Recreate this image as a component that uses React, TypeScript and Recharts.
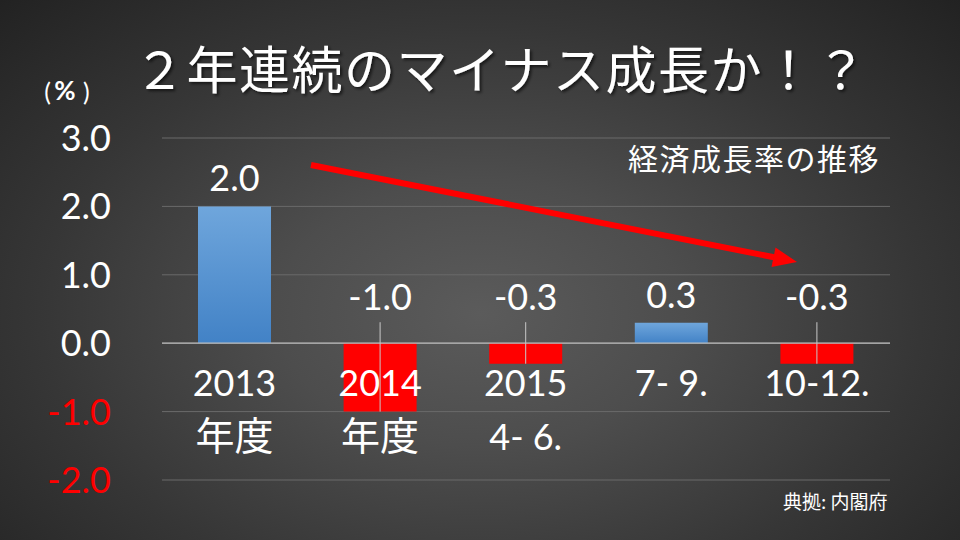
import React from 'react';
import { BarChart, Bar, XAxis, YAxis, CartesianGrid, Cell, LabelList, ReferenceLine } from 'recharts';

const categories = ['2013', '2014', '2015', '7- 9.', '10-12.'];
const subLabels = ['年度', '年度', '4- 6.', '', ''];
const growth = [2.0, -1.0, -0.3, 0.3, -0.3];
const yTicks = [-2, -1, 0, 1, 2, 3];

const data = categories.map((c, i) => ({ name: c, sub: subLabels[i], value: growth[i] }));

const NUM_FONT = "Lato, 'Noto Sans CJK JP', sans-serif";
const CJK_FONT = "'Noto Sans CJK JP', sans-serif";

const getBox = (props: any) => {
  const vb = props.viewBox || {};
  const x = Number(props.x ?? vb.x);
  const y = Number(props.y ?? vb.y);
  const w = Number(props.width ?? vb.width);
  const h = Number(props.height ?? vb.height);
  return { x, y, w, h };
};

const ValueLabel = (props: any) => {
  const { x, y, w, h } = getBox(props);
  const v = Number(props.value);
  const top = Math.min(y, y + h);
  const bottom = Math.max(y, y + h);
  const cx = x + w / 2;
  if (v >= 0) {
    return (
      <text x={cx} y={top - 15} textAnchor="middle" fill="#ffffff" fontSize={36} fontFamily={NUM_FONT}>
        {v.toFixed(1)}
      </text>
    );
  }
  const zero = top;
  return (
    <g>
      <line x1={cx} x2={cx} y1={zero - 21} y2={bottom} stroke="#c8c8c8" strokeWidth={1} />
      <text x={cx} y={zero - 33} textAnchor="middle" fill="#ffffff" fontSize={36} fontFamily={NUM_FONT}>
        {v.toFixed(1)}
      </text>
    </g>
  );
};

const CategoryLabel = (props: any) => {
  const { x, y, w, h } = getBox(props);
  const idx = Number(props.index);
  const v = growth[idx];
  const zero = v >= 0 ? Math.max(y, y + h) : Math.min(y, y + h);
  const cx = x + w / 2;
  const sub = subLabels[idx];
  const isCjk = /[\u3000-\u9fff]/.test(sub);
  return (
    <g>
      <text x={cx} y={zero + 53} textAnchor="middle" fill="#ffffff" fontSize={36} fontFamily={NUM_FONT}>
        {categories[idx]}
      </text>
      {sub ? (
        <text x={cx} y={zero + 107} textAnchor="middle" fill="#ffffff" fontSize={isCjk ? 39 : 36} fontFamily={isCjk ? CJK_FONT : NUM_FONT}>
          {sub}
        </text>
      ) : null}
    </g>
  );
};

const YTick = (props: any) => {
  const { x, y, payload } = props;
  const v = Number(payload.value);
  return (
    <text x={x} y={y} dy={13} textAnchor="end" fill={v < 0 ? '#ff0000' : '#ffffff'} fontSize={36} fontFamily={NUM_FONT}>
      {v.toFixed(1)}
    </text>
  );
};

export default function App() {
  return (
    <div
      style={{
        position: 'absolute',
        left: 0,
        top: 0,
        width: 960,
        height: 540,
        overflow: 'hidden',
        background: 'radial-gradient(ellipse farthest-corner at 50% 58%, #5b5b5b 0%, #4d4d4d 30%, #363636 65%, #222222 100%)',
      }}
    >
      <div style={{ position: 'absolute', left: 0, top: 0 }}>
        <BarChart width={960} height={540} data={data} margin={{ top: 138, right: 70, bottom: 60, left: 0 }}>
          <defs>
            <linearGradient id="blueGrad" x1="0" y1="0" x2="0" y2="1">
              <stop offset="0%" stopColor="#6fa6dc" />
              <stop offset="100%" stopColor="#4282c6" />
            </linearGradient>
          </defs>
          <CartesianGrid vertical={false} stroke="#6a6a6a" strokeWidth={1} />
          <XAxis dataKey="name" hide />
          <YAxis
            domain={[-2, 3]}
            ticks={yTicks}
            width={162}
            axisLine={false}
            tickLine={false}
            tickSize={0}
            tickMargin={51}
            tick={YTick}
          />
          <ReferenceLine y={0} stroke="#bdbdbd" strokeWidth={1.2} />
          <Bar dataKey="value" barSize={73} isAnimationActive={false}>
            {data.map((d, i) => (
              <Cell key={i} fill={d.value >= 0 ? 'url(#blueGrad)' : '#ff0000'} />
            ))}
            <LabelList dataKey="value" content={ValueLabel} />
            <LabelList dataKey="name" content={CategoryLabel} />
          </Bar>
        </BarChart>
      </div>
      <svg width={960} height={540} style={{ position: 'absolute', left: 0, top: 0, pointerEvents: 'none' }}>
        <defs>
          <filter id="titleShadow" x="-5%" y="-20%" width="110%" height="150%">
            <feDropShadow dx="2" dy="2" stdDeviation="1.5" floodColor="#000" floodOpacity="0.6" />
          </filter>
        </defs>
        <text x={501} y={89} textAnchor="middle" fill="#ffffff" fontSize={51} letterSpacing={1.5} fontFamily={CJK_FONT} filter="url(#titleShadow)">
          ２年連続のマイナス成長か！？
        </text>
        <text x={51} y={101} textAnchor="end" fill="#ffffff" fontSize={25} fontFamily={NUM_FONT}>(</text>
        <text x={65} y={100} textAnchor="middle" fill="#ffffff" fontSize={26} fontWeight="bold" fontFamily={NUM_FONT}>%</text>
        <text x={83} y={101} textAnchor="start" fill="#ffffff" fontSize={25} fontFamily={NUM_FONT}>)</text>
        <text x={628} y={170} fill="#ffffff" fontSize={30} letterSpacing={1.5} fontFamily={CJK_FONT}>
          経済成長率の推移
        </text>
        <text x={783} y={509} fill="#ffffff" fontSize={19} fontFamily={CJK_FONT}>
          典拠: 内閣府
        </text>
        <line x1={311} y1={165} x2={774} y2={257.3} stroke="#ff0000" strokeWidth={6} />
        <polygon points="797,262 771.5,267.1 775.5,247.5" fill="#ff0000" />
      </svg>
    </div>
  );
}
